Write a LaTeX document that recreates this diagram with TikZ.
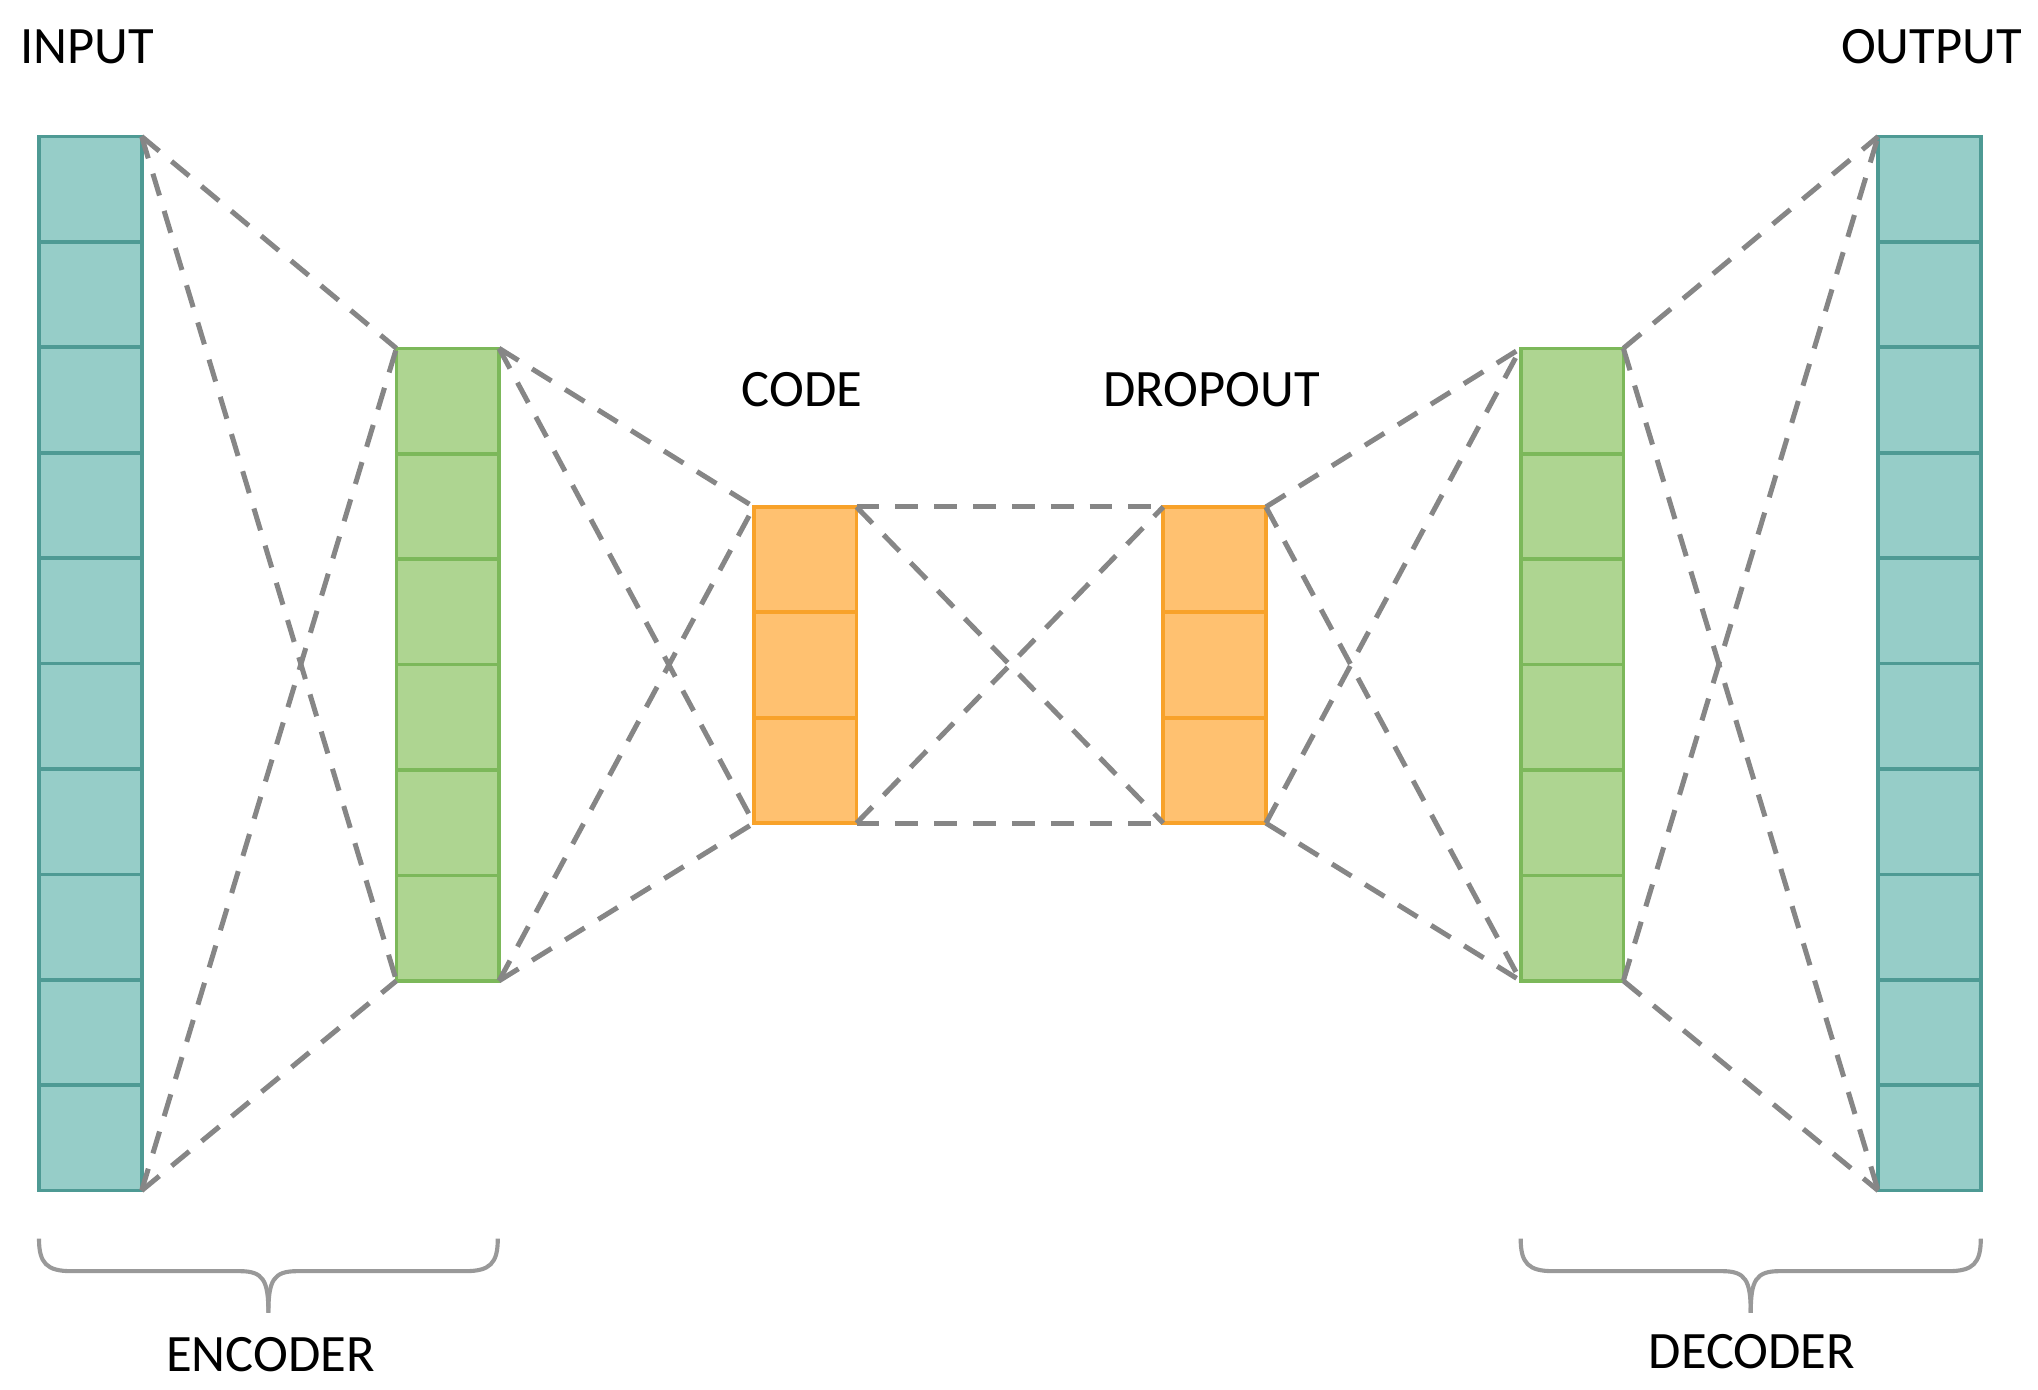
\documentclass[tikz,border=0pt]{standalone}
\usepackage{fontspec}
\setmainfont{Carlito}
\begin{document}
\begin{tikzpicture}[x=0.01cm,y=-0.01cm,
  col/.style={draw=#1!70!black,line width=0.8pt,inner sep=0,minimum width=0.78cm},
  conn/.style={draw=gray!95,line width=1.1pt,dash pattern=on 5pt off 3.5pt},
  brc/.style={draw=gray!80,line width=0.9pt},
  lbl/.style={font=\fontsize{11.5}{13}\selectfont}]
\useasboundingbox (0,0) rectangle (1568,1069);
\definecolor{teal}{HTML}{96CDC8}\definecolor{tealb}{HTML}{4E9A94}
\definecolor{grn}{HTML}{AED591}\definecolor{grnb}{HTML}{7CB85A}
\definecolor{org}{HTML}{FFC170}\definecolor{orgb}{HTML}{F8A22A}
\tikzset{cell/.style 2 args={fill=#1,draw=#2,line width=0.8pt}}
% columns: name/x/top/n/fill/border
\foreach \nm/\x/\t/\n/\f/\b in {in/30/105/10/teal/tealb,g1/305/268/6/grn/grnb,cd/580/390/3/org/orgb,dp/895/390/3/org/orgb,g2/1170/268/6/grn/grnb,out/1445/105/10/teal/tealb}{
  \foreach \i in {1,...,\n}{
    \draw[cell={\f}{\b}] (\x,{\t+(\i-1)*81.1}) rectangle ({\x+79},{\t+\i*81.1});
  }
  \coordinate (\nm-nw) at (\x,\t);
  \coordinate (\nm-ne) at ({\x+79},\t);
  \coordinate (\nm-sw) at (\x,{\t+\n*81.1});
  \coordinate (\nm-se) at ({\x+79},{\t+\n*81.1});
}
\foreach \a/\b in {in/g1,g1/cd,cd/dp,dp/g2,g2/out}{
  \draw[conn] (\a-ne) -- (\b-nw);
  \draw[conn] (\a-ne) -- (\b-sw);
  \draw[conn] (\a-se) -- (\b-nw);
  \draw[conn] (\a-se) -- (\b-sw);
}
\node[lbl] (tin) at (67,36) {INPUT};
\node[lbl] (tout) at (1486,36) {OUTPUT};
\node[lbl] (tcode) at (617,300) {CODE};
\node[lbl] (tdrop) at (932,300) {DROPOUT};
\node[lbl] (tenc) at (208,1042) {ENCODER};
\node[lbl] (tdec) at (1348,1040) {DECODER};
\foreach \l/\r in {30/383,1170/1524}{
  \pgfmathsetmacro\m{(\l+\r)/2}
  \draw[brc] (\l,953) .. controls (\l,972) and ({\l+6},978) .. ({\l+25},978) -- ({\m-22},978)
    .. controls ({\m-4},978) and (\m,985) .. (\m,1010);
  \draw[brc] (\r,953) .. controls (\r,972) and ({\r-6},978) .. ({\r-25},978) -- ({\m+22},978)
    .. controls ({\m+4},978) and (\m,985) .. (\m,1010);
}
\end{tikzpicture}
\end{document}
